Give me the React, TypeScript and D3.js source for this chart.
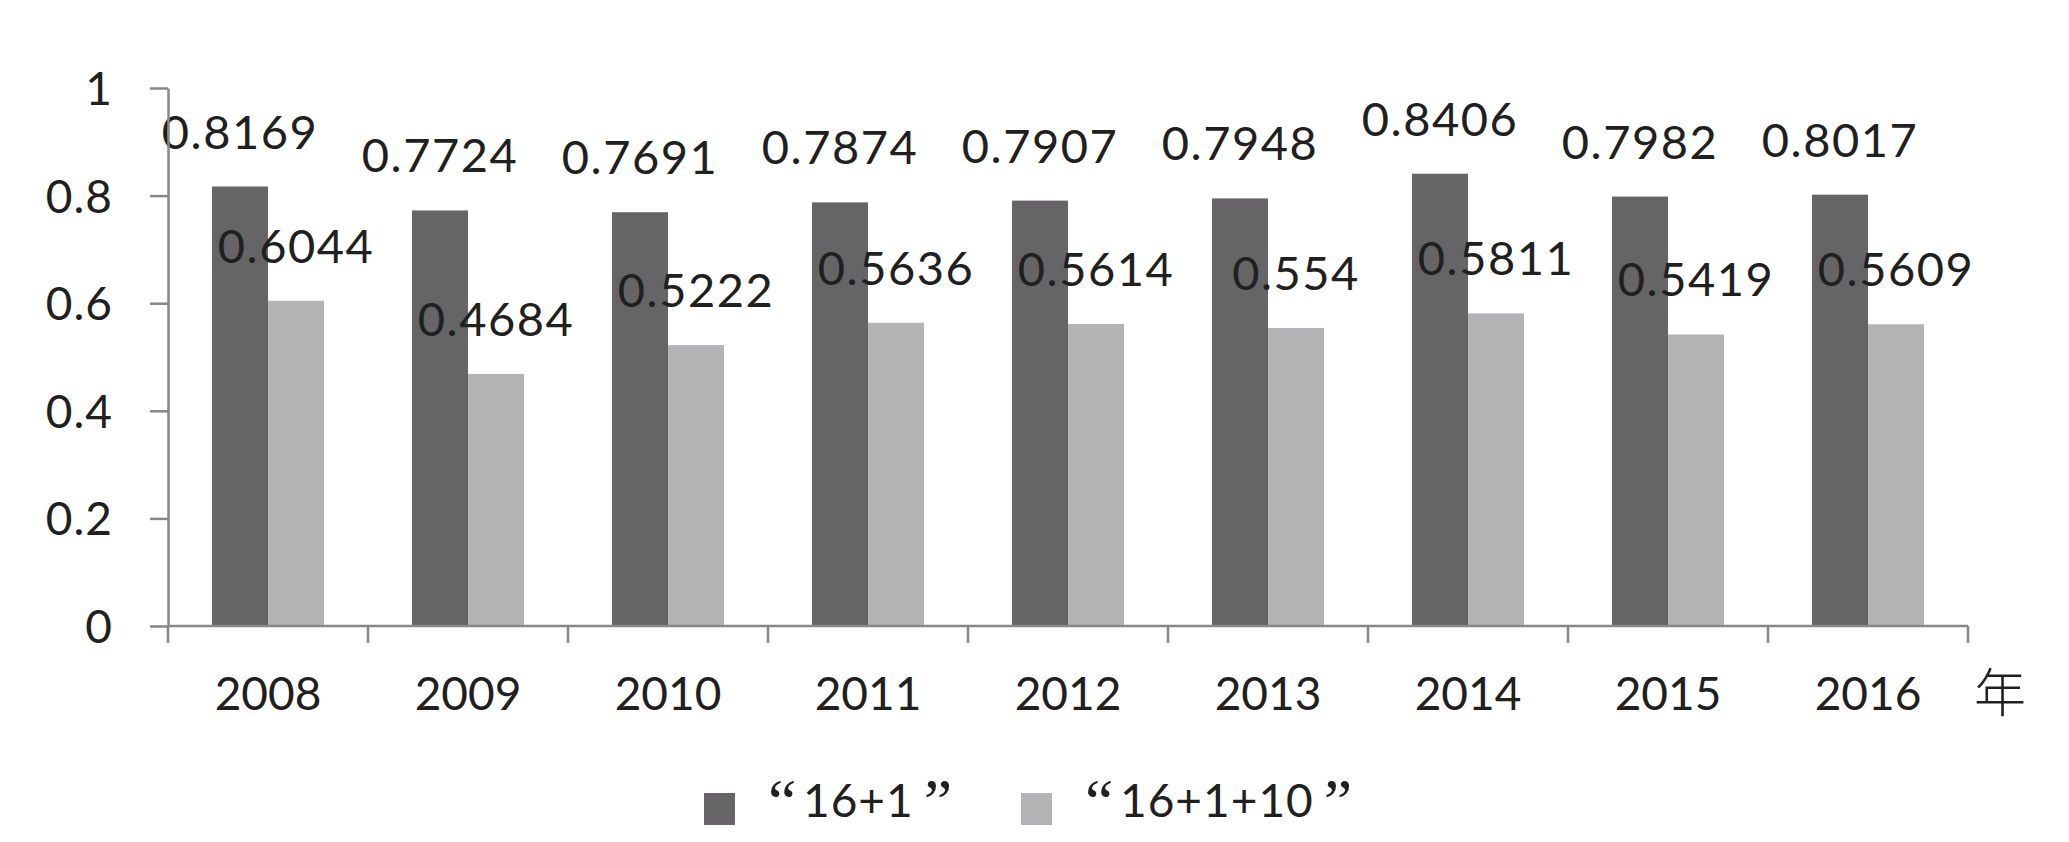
import React, { useEffect, useRef } from 'react'
import * as d3 from 'd3'

const years = ['2008', '2009', '2010', '2011', '2012', '2013', '2014', '2015', '2016']
const seriesNames = ['16+1', '16+1+10']
const values161 = [0.8169, 0.7724, 0.7691, 0.7874, 0.7907, 0.7948, 0.8406, 0.7982, 0.8017]
const values16110 = [0.6044, 0.4684, 0.5222, 0.5636, 0.5614, 0.554, 0.5811, 0.5419, 0.5609]
const yTickValues = [0, 0.2, 0.4, 0.6, 0.8, 1]
const yTickLabels = ['0', '0.2', '0.4', '0.6', '0.8', '1']
const xUnit = '年'

export default function App(): React.ReactElement {
  const chartRef = useRef<HTMLDivElement>(null)

  useEffect(() => {
    document.body.style.margin = '0'

    const width = 2069
    const height = 842
    const left = 168
    const right = 1968
    const top = 88
    const bottom = 626
    const latin = 'Lato, "Open Sans", sans-serif'
    const fontSize = 46
    const textColor = '#202020'
    const dark = '#666466'
    const light = '#b4b3b5'
    const axisColor = '#878787'
    const colors = [dark, light]

    const rows = years.map((year, i) => ({
      year,
      vals: [values161[i], values16110[i]],
    }))

    const x = d3.scaleBand().domain(years).range([left, right])
    const bw = x.bandwidth()
    // bars sit in the middle 56% of each category
    const x1 = d3
      .scaleBand()
      .domain(seriesNames)
      .range([bw * 0.22, bw * 0.78])
    const y = d3.scaleLinear().domain([0, 1]).range([bottom, top])

    d3.select(chartRef.current).select('svg').remove()

    const svg = d3
      .select(chartRef.current)
      .append('svg')
      .attr('width', width)
      .attr('height', height)
      .attr('viewBox', `0 0 ${width} ${height}`)
      .style('display', 'block')
      .style('background', '#fff')

    // bars
    const groups = svg
      .append('g')
      .selectAll('g')
      .data(rows)
      .join('g')
      .attr('transform', (d) => `translate(${x(d.year)},0)`)

    groups
      .selectAll('rect')
      .data((d) => d.vals.map((v, k) => ({ v, k })))
      .join('rect')
      .attr('x', (d) => x1(seriesNames[d.k])!)
      .attr('y', (d) => y(d.v))
      .attr('width', x1.bandwidth())
      .attr('height', (d) => y(0) - y(d.v))
      .attr('fill', (d) => colors[d.k])

    // data labels
    groups
      .selectAll('text')
      .data((d) => d.vals.map((v, k) => ({ v, k })))
      .join('text')
      .attr('x', (d) => x1(seriesNames[d.k])! + x1.bandwidth() / 2)
      .attr('y', (d) => y(d.v) - 38)
      .attr('text-anchor', 'middle')
      .attr('font-family', latin)
      .attr('font-size', fontSize + 1)
      .attr('letter-spacing', 1.5)
      .attr('fill', textColor)
      .text((d) => String(d.v))

    // y axis
    const yAxis = svg
      .append('g')
      .attr('transform', `translate(${left},0)`)
      .call(
        d3
          .axisLeft(y)
          .tickValues(yTickValues)
          .tickFormat((_, i) => yTickLabels[i])
          .tickSize(18)
          .tickSizeOuter(0)
          .tickPadding(37)
      )
    yAxis.select('.domain').attr('stroke', axisColor).attr('stroke-width', 2.5)
    yAxis.selectAll('.tick line').attr('stroke', axisColor).attr('stroke-width', 2.5)
    yAxis
      .selectAll('.tick text')
      .attr('font-family', latin)
      .attr('font-size', fontSize)
      .attr('letter-spacing', 1)
      .attr('fill', textColor)
      .attr('dy', '0.36em')

    // x axis
    const xAxis = svg.append('g')
    xAxis
      .append('line')
      .attr('x1', left)
      .attr('x2', right)
      .attr('y1', y(0))
      .attr('y2', y(0))
      .attr('stroke', axisColor)
      .attr('stroke-width', 2.5)
    xAxis
      .selectAll('line.tick')
      .data([...years.map((d) => x(d)!), right])
      .join('line')
      .attr('class', 'tick')
      .attr('x1', (d) => d)
      .attr('x2', (d) => d)
      .attr('y1', y(0))
      .attr('y2', y(0) + 17)
      .attr('stroke', axisColor)
      .attr('stroke-width', 2.5)
    xAxis
      .selectAll('text.cat')
      .data(years)
      .join('text')
      .attr('class', 'cat')
      .attr('x', (d) => x(d)! + bw / 2)
      .attr('y', y(0) + 84)
      .attr('text-anchor', 'middle')
      .attr('font-family', latin)
      .attr('font-size', fontSize)
      .attr('fill', textColor)
      .text((d) => d)

    svg
      .append('text')
      .attr('x', right + 32)
      .attr('y', y(0) + 86)
      .attr('text-anchor', 'middle')
      .attr('font-family', '"Noto Sans CJK SC", sans-serif')
      .attr('font-weight', 300)
      .attr('font-size', 52)
      .attr('fill', textColor)
      .text(xUnit)

    // legend
    const legendX = [704, 1021]
    const legend = svg
      .append('g')
      .selectAll('g')
      .data(seriesNames)
      .join('g')
      .attr('transform', (_, i) => `translate(${legendX[i]},0)`)

    legend
      .append('rect')
      .attr('x', 0)
      .attr('y', 793)
      .attr('width', 31)
      .attr('height', 32)
      .attr('fill', (_, i) => colors[i])

    const lt = legend
      .append('text')
      .attr('y', 817)
      .attr('fill', textColor)
    lt.append('tspan')
      .attr('x', 64)
      .attr('dy', 6)
      .attr('font-family', '"Liberation Serif", serif')
      .attr('font-size', 64)
      .text('\u201c')
    lt.append('tspan')
      .attr('x', 99)
      .attr('dy', -6)
      .attr('font-family', latin)
      .attr('font-size', fontSize)
      .attr('letter-spacing', 1)
      .text((d) => d)
    lt.append('tspan')
      .attr('dx', 10)
      .attr('dy', 6)
      .attr('font-family', '"Liberation Serif", serif')
      .attr('font-size', 64)
      .text('\u201d')
  }, [])

  return <div ref={chartRef}></div>
}
